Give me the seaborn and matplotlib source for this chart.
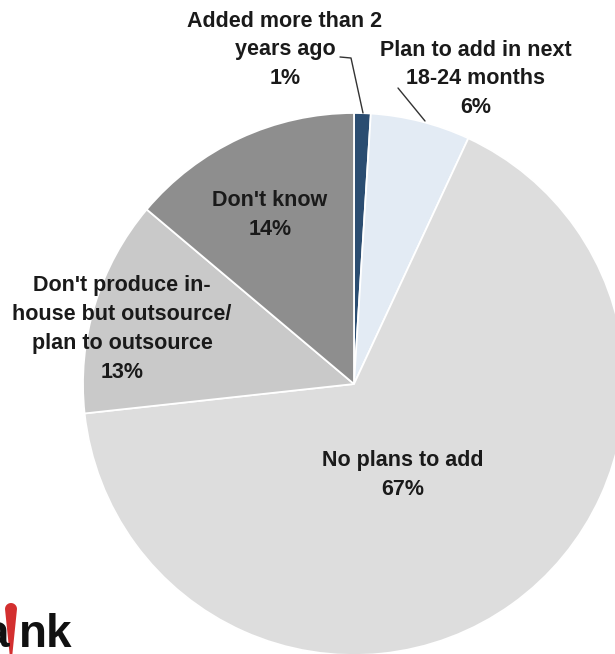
import matplotlib
matplotlib.use("Agg")
import matplotlib.pyplot as plt
from matplotlib.patches import Polygon
import numpy as np
import seaborn as sns

# Survey answers, clockwise from 12 o'clock
categories = [
    "Added more than 2\nyears ago",
    "Plan to add in next\n18-24 months",
    "No plans to add",
    "Don't produce in-\nhouse but outsource/\nplan to outsource",
    "Don't know",
]
shares = [1, 6, 67, 13, 14]
slice_colors = ["#2b4d71", "#e3ebf4", "#dddddd", "#c9c9c9", "#8e8e8e"]

sns.set_theme(style="white")
plt.rcParams["font.family"] = ["Liberation Sans", "DejaVu Sans"]

W, H = 615, 654
fig = plt.figure(figsize=(W / 100, H / 100), dpi=100)
ax = fig.add_axes([0, 0, 1, 1])

cx, cy, r = 354, H - 384, 271
palette = sns.color_palette(slice_colors)
ax.pie(shares, colors=palette, startangle=90, counterclock=False,
       center=(cx, cy), radius=r, frame=True,
       wedgeprops=dict(edgecolor="white", linewidth=1.3))
ax.set_xlim(0, W)
ax.set_ylim(0, H)
ax.set_aspect("equal")
ax.axis("off")

txt = dict(fontsize=15.5, fontweight="bold", color="#1a1a1a",
           ha="center", va="center", linespacing=1.48)

def label(i, x, y):
    ax.text(x, H - y, f"{categories[i]}\n{shares[i]}%", **txt)

label(0, 285, 50)
label(1, 476, 79)
label(2, 403, 475)
label(3, 122, 329)
label(4, 270, 215)

# leader lines for the two small slices
ax.plot([340, 351, 363], [H - 57, H - 58, H - 113], color="#333333", lw=1.0)
ax.plot([398, 425], [H - 88, H - 121], color="#333333", lw=1.0)

# publisher mark in the lower-left corner
ax.text(-16, H - 647, "a", fontsize=33, fontweight="bold", color="#111111",
        ha="left", va="baseline")
t = np.linspace(0, np.pi, 16)
drop = [(11 + 6 * np.cos(a), H - 609 + 6 * np.sin(a)) for a in t]
drop += [(9.6, H - 654), (12.4, H - 654)]
ax.add_patch(Polygon(drop, closed=True, facecolor="#d32f2f", edgecolor="none"))
ax.text(19, H - 647, "nk", fontsize=33, fontweight="bold", color="#111111",
        ha="left", va="baseline")

fig.savefig("out.png", dpi=100)
